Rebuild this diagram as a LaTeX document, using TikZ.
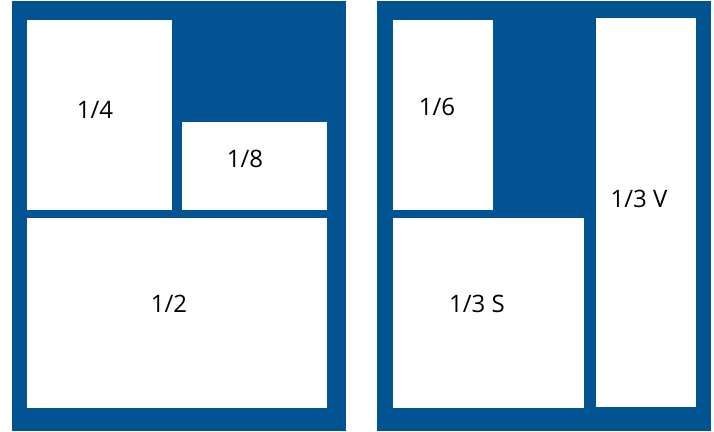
\documentclass[tikz,border=0pt]{standalone}
\usepackage{fontspec}
\setmainfont{Open Sans}
\definecolor{panelblue}{RGB}{2,83,145}
\tikzset{
  panel/.style={fill=panelblue, draw=none},
  cell/.style={fill=white, draw=none},
  lbl/.style={font=\fontsize{24}{28}\selectfont, text=black, inner sep=0pt}
}
\begin{document}
\begin{tikzpicture}[x=1pt,y=-1pt]
\useasboundingbox (0,0) rectangle (714,431);
% left panel
\path[panel] (12,1) rectangle (346,431);
\path[cell] (27,20) rectangle (172,210);
\path[cell] (182,122) rectangle (327,210);
\path[cell] (27,218) rectangle (327,408);
\node[lbl] (q4) at (95,110) {1/4};
\node[lbl] (q8) at (245,159) {1/8};
\node[lbl] (q2) at (169,304) {1/2};
% right panel
\path[panel] (377,1) rectangle (711,431);
\path[cell] (393,20) rectangle (493,210);
\path[cell] (393,218) rectangle (584,408);
\path[cell] (596,18) rectangle (696,407);
\node[lbl] (q6) at (437,107) {1/6};
\node[lbl] (q3s) at (477,304) {1/3 S};
\node[lbl] (q3v) at (639,199) {1/3 V};
\end{tikzpicture}
\end{document}
